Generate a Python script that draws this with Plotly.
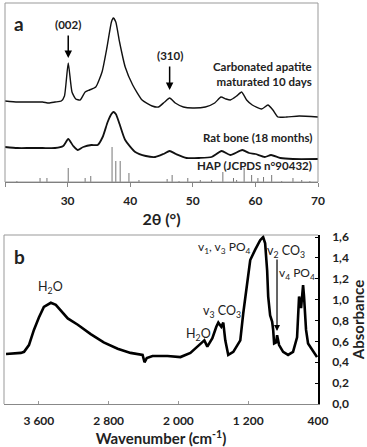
import plotly.graph_objects as go

# ---------- Panel a : XRD ----------
theta_ca = [20, 22, 24, 26, 27, 28, 29, 29.5, 30.1, 30.7, 31.3, 32, 32.8, 33.5, 34.5, 35.5, 36.3, 37.0,
            37.3, 37.7, 38.3, 39.2, 40.4, 41.9, 43.5, 44.5, 45.5, 46.3, 47.2, 48.5, 50, 52, 53.5, 54.5,
            55.3, 56, 57, 57.8, 58.6, 59.5, 61, 62, 62.8, 63.6, 65, 67, 70]
int_ca = [81, 80, 80, 80, 79, 80, 81, 86, 119, 90, 83, 82, 90, 92, 95, 110, 135, 160,
          164, 160, 140, 115, 97, 82, 76, 75, 80, 84, 79, 75, 74, 75, 79, 85,
          83, 82, 86, 90, 82, 77, 73, 77, 72, 65, 65, 66, 65]

theta_rb = [20, 22, 24, 26, 28, 29.3, 30.1, 30.9, 31.6, 32.5, 33.8, 34.8, 35.6, 36.4, 37.0, 37.3, 37.7,
            38.3, 39.2, 40.8, 42.5, 44, 45.3, 46.3, 47.3, 49, 51, 53, 54.6, 56, 57.9, 59, 60, 61.5,
            62.5, 64, 66, 70]
int_rb = [35, 34, 34, 34, 34, 36, 43, 36, 32, 35, 37, 37, 45, 60, 68, 70, 68,
          58, 42, 30, 26, 25, 28, 31, 28, 24, 24, 25, 31, 27, 32, 29, 28, 25,
          27, 24, 23, 23]

hap_theta = [21.9, 25.6, 26.7, 30.1, 32.8, 33.7, 37.1, 37.7, 38.4, 39.8, 41.4, 45.9, 46.7, 47.8, 49.2,
             51.2, 53.0, 54.8, 56.5, 57.0, 58.2, 59.4, 60.4, 61.3, 62.6, 64.2, 66.0, 67.4, 68.7]
hap_int = [1, 4, 4, 14, 4, 6, 35, 21, 21, 9, 2, 3, 7, 1, 4,
           2, 2, 10, 4, 2, 14, 7, 4, 5, 7, 1, 4, 2, 1]

xrd_ticks = [20, 30, 40, 50, 60, 70]

# ---------- Panel b : FTIR ----------
wn = [3977, 3806, 3770, 3714, 3657, 3600, 3543, 3463, 3406, 3349, 3269, 3154, 3006, 2857, 2697, 2549,
      2411, 2389, 2363, 2297, 2126, 1977, 1863, 1783, 1703, 1669, 1611, 1566, 1543, 1509, 1486, 1463,
      1429, 1371, 1291, 1257, 1211, 1177, 1120, 1063, 1029, 1006, 983, 971, 949, 926, 914, 903, 880,
      869, 846, 800, 743, 686, 640, 629, 617, 594, 571, 560, 537, 514, 469, 434, 411]
absorb = [0.48, 0.49, 0.50, 0.565, 0.71, 0.83, 0.93, 0.97, 0.95, 0.90, 0.82, 0.76, 0.67, 0.59, 0.53, 0.49,
          0.47, 0.40, 0.44, 0.46, 0.46, 0.45, 0.49, 0.55, 0.61, 0.55, 0.63, 0.74, 0.78, 0.74, 0.78, 0.61,
          0.47, 0.50, 0.61, 0.87, 1.19, 1.38, 1.48, 1.57, 1.60, 1.54, 1.28, 1.03, 0.85, 0.79, 0.71, 0.58, 0.59,
          0.66, 0.565, 0.50, 0.47, 0.50, 0.64, 0.87, 1.03, 0.92, 1.14, 1.03, 0.71, 0.58, 0.52, 0.48, 0.45]

ir_tickvals = [3600, 2800, 2000, 1200, 400]
ir_ticktext = ["3 600", "2 800", "2 000", "1 200", "400"]
abs_tickvals = [0.0, 0.2, 0.4, 0.6, 0.8, 1.0, 1.2, 1.4, 1.6]
abs_ticktext = ["0,0", "0,2", "0,4", "0,6", "0,8", "1,0", "1,2", "1,4", "1,6"]

FONT = "Lato"
TXT = "#222222"

fig = go.Figure()

fig.add_trace(go.Scatter(x=theta_ca, y=int_ca, mode="lines", line=dict(color="#111", width=1.4, shape="spline", smoothing=0.5),
                         xaxis="x", yaxis="y", showlegend=False))
fig.add_trace(go.Scatter(x=theta_rb, y=int_rb, mode="lines", line=dict(color="#111", width=1.8, shape="spline", smoothing=0.6),
                         xaxis="x", yaxis="y", showlegend=False))
stick_x, stick_y = [], []
for t, h in zip(hap_theta, hap_int):
    stick_x += [t, t, None]
    stick_y += [0, h, None]
fig.add_trace(go.Scatter(x=stick_x, y=stick_y, mode="lines", line=dict(color="#777", width=1),
                         xaxis="x", yaxis="y", showlegend=False))

fig.add_trace(go.Scatter(x=wn, y=absorb, mode="lines", line=dict(color="#000", width=2.6),
                         xaxis="x2", yaxis="y2", showlegend=False))

ax_font = dict(family=FONT, size=12, color=TXT, weight="bold")
fig.update_layout(
    width=367, height=447, margin=dict(l=0, r=0, t=0, b=0, autoexpand=False),
    paper_bgcolor="white", plot_bgcolor="white",
    xaxis=dict(domain=[5/367, 318/367], range=[20, 70], tickvals=xrd_ticks, ticks="outside", ticklen=4,
               tickcolor="#888", showline=True, linecolor="#666", linewidth=1, mirror=False, showgrid=False,
               zeroline=False, tickfont=ax_font, anchor="y", automargin=False, ticklabelstandoff=4,
               title=dict(text="2θ (°)", font=dict(family=FONT, size=16, color=TXT, weight="bold"), standoff=6)),
    yaxis=dict(domain=[265/447, 444/447], range=[0, 179], showticklabels=False, ticks="", showgrid=False,
               zeroline=False, showline=False, anchor="x", automargin=False),
    xaxis2=dict(domain=[4/367, 318/367], range=[4000, 400], tickvals=ir_tickvals, ticktext=ir_ticktext,
                ticks="inside", ticklen=3, tickcolor="#999", showline=True, linecolor="#888", linewidth=1,
                showgrid=False, zeroline=False, tickfont=ax_font, anchor="y2", automargin=False, ticklabelstandoff=6,
                title=dict(text="Wavenumber (cm<sup>-1</sup>)", font=dict(family=FONT, size=15, color=TXT, weight="bold"), standoff=5)),
    yaxis2=dict(domain=[43/447, 212/447], range=[0, 1.62], side="right", tickvals=abs_tickvals, ticktext=abs_ticktext,
                ticks="inside", ticklen=3, tickcolor="#000", showline=True, linecolor="#000", linewidth=1.5,
                showgrid=False, zeroline=False, tickfont=ax_font, anchor="x2", automargin=False, ticklabelstandoff=10,
                title=dict(text="Absorbance", font=dict(family=FONT, size=15, color=TXT, weight="bold"), standoff=7)),
)

# frames
fig.add_shape(type="rect", xref="x domain", yref="y domain", x0=0, x1=1, y0=0, y1=1,
              line=dict(color="#999", width=1))
fig.add_shape(type="line", xref="x2 domain", yref="y2 domain", x0=0, x1=1, y0=1, y1=1, line=dict(color="#999", width=1))
fig.add_shape(type="line", xref="x2 domain", yref="y2 domain", x0=0, x1=0, y0=0, y1=1, line=dict(color="#999", width=1))

def note(text, x, y, xref, yref, size=11.5, xanchor="center", weight="bold", family=FONT, align="center"):
    fig.add_annotation(text=text, x=x, y=y, xref=xref, yref=yref, showarrow=False, xanchor=xanchor,
                       yanchor="middle", align=align,
                       font=dict(family=family, size=size, color=TXT, weight=weight))

# panel a labels
note("a", 0.045, 0.885, "x domain", "y domain", size=19)
note("(002)", 30.1, 157, "x", "y")
fig.add_annotation(x=30.1, y=124, ax=30.1, ay=148, xref="x", yref="y", axref="x", ayref="y",
                   showarrow=True, arrowhead=2, arrowsize=1, arrowwidth=1.5, arrowcolor="#000", text="")
note("(310)", 46.3, 126, "x", "y")
fig.add_annotation(x=46.3, y=92, ax=46.3, ay=117, xref="x", yref="y", axref="x", ayref="y",
                   showarrow=True, arrowhead=2, arrowsize=1, arrowwidth=1.5, arrowcolor="#000", text="")
note("Carbonated apatite<br>maturated 10 days", 69.3, 108.5, "x", "y", xanchor="right", align="right")
note("Rat bone (18 months)", 69.3, 45, "x", "y", xanchor="right")
note("HAP (JCPDS n°90432)", 69.3, 17, "x", "y", xanchor="right")

# panel b labels
note("b", 0.05, 0.87, "x2 domain", "y2 domain", size=19)
note("H<sub>2</sub>O", 3470, 1.12, "x2", "y2", size=12.5, weight="normal")
note("H<sub>2</sub>O", 1775, 0.67, "x2", "y2", size=12.5, weight="normal")
note("v<sub>3</sub> CO<sub>3</sub>", 1500, 0.89, "x2", "y2", size=12.5, weight="normal")
note("v<sub>1</sub>, v<sub>3</sub> PO<sub>4</sub>", 1475, 1.50, "x2", "y2", size=12, weight="normal")
note("v<sub>2</sub> CO<sub>3</sub>", 765, 1.46, "x2", "y2", size=12.5, weight="normal")
fig.add_annotation(x=870, y=0.70, ax=870, ay=1.40, xref="x2", yref="y2", axref="x2", ayref="y2",
                   showarrow=True, arrowhead=2, arrowsize=1, arrowwidth=1.2, arrowcolor="#000", text="")
note("v<sub>4</sub> PO<sub>4</sub>", 645, 1.25, "x2", "y2", size=12, weight="normal")

fig.write_html("out.html")
